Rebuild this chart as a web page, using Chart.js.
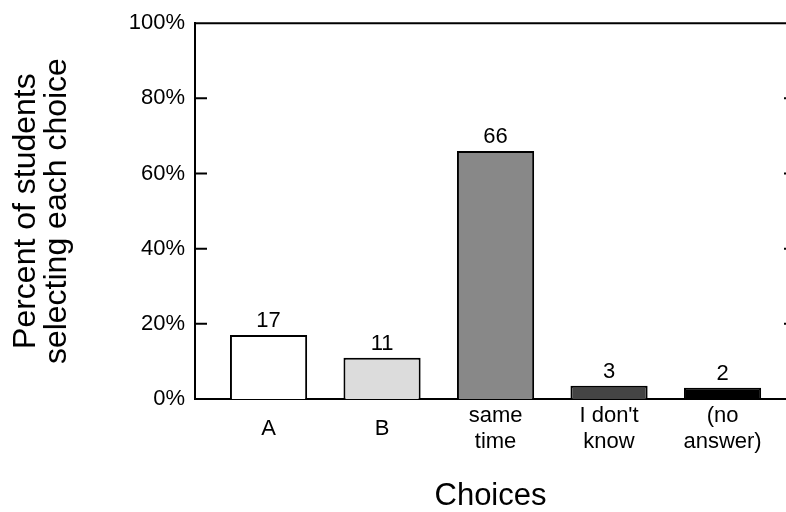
<!DOCTYPE html>
<html>
<head>
<meta charset="utf-8">
<script src="https://cdn.jsdelivr.net/npm/chart.js@4"></script>
<style>
  html, body { margin: 0; padding: 0; background: #fff; }
  #wrap { width: 786px; height: 512px; }
</style>
</head>
<body>
<div id="wrap"><canvas id="choiceChart" width="786" height="512"></canvas></div>
<script>
// data
const choices = [["A"], ["B"], ["same", "time"], ["I don't", "know"], ["(no", "answer)"]];
const percents = [17, 11, 66, 3.5, 3.0];     // bar heights as drawn
const valueLabels = ["17", "11", "66", "3", "2"]; // numbers printed above bars
const barColors = ["#ffffff", "#dcdcdc", "#888888", "#444444", "#000000"];
const yTicks = [0, 20, 40, 60, 80, 100];

const FONT = "'Liberation Sans', Arial, Helvetica, sans-serif";

// top border line, inward tick marks, value labels above bars
const framePlugin = {
    id: "frame",
    afterDraw(chart) {
        const ctx = chart.ctx;
        const area = chart.chartArea;
        const y = chart.scales.y;
        ctx.save();
        ctx.strokeStyle = "#000";
        ctx.lineWidth = 2;
        ctx.beginPath();
        ctx.moveTo(area.left - 1, area.top);
        ctx.lineTo(area.right, area.top);
        ctx.stroke();

        yTicks.slice(1, -1).forEach(v => {
            const py = y.getPixelForValue(v);
            ctx.beginPath();
            ctx.moveTo(area.left, py);
            ctx.lineTo(area.left + 12, py);
            ctx.moveTo(area.right - 2, py);
            ctx.lineTo(area.right, py);
            ctx.stroke();
        });

        ctx.fillStyle = "#000";
        ctx.font = "22px " + FONT;
        ctx.textAlign = "center";
        ctx.textBaseline = "alphabetic";
        chart.getDatasetMeta(0).data.forEach((bar, i) => {
            ctx.fillText(valueLabels[i], bar.x, bar.y - 8);
        });
        ctx.restore();
    }
};

new Chart(document.getElementById("choiceChart"), {
    type: "bar",
    data: {
        datasets: [{
            data: percents.map((v, i) => ({ x: i, y: v })),
            backgroundColor: barColors,
            borderColor: "#000",
            borderWidth: 2,
            barPercentage: 0.68,
            categoryPercentage: 1
        }]
    },
    options: {
        responsive: false,
        animation: false,
        layout: { padding: { top: 22, right: 0, bottom: 0, left: 0 } },
        plugins: { legend: { display: false }, tooltip: { enabled: false } },
        scales: {
            x: {
                type: "linear",
                offset: false,
                min: -0.648,
                max: 4.559,
                afterFit: s => { s.height = 113; },
                afterBuildTicks: s => { s.ticks = choices.map((c, i) => ({ value: i })); },
                grid: { display: false, drawTicks: false },
                border: { color: "#000", width: 2 },
                ticks: {
                    padding: 17,
                    crossAlign: "center",
                    color: "#000",
                    font: { family: FONT, size: 22, lineHeight: 1.18 },
                    callback: v => choices[v] || ""
                },
                title: {
                    display: true,
                    text: "Choices",
                    color: "#000",
                    padding: 0,
                    font: { family: FONT, size: 31, lineHeight: 1.0 }
                }
            },
            y: {
                min: 0,
                max: 100,
                afterFit: s => { s.width = 195; },
                afterBuildTicks: s => { s.ticks = yTicks.map(v => ({ value: v })); },
                grid: { display: false, drawTicks: false },
                border: { color: "#000", width: 2 },
                ticks: {
                    padding: 10,
                    color: "#000",
                    font: { family: FONT, size: 22 },
                    callback: v => v + "%"
                },
                title: {
                    display: true,
                    text: ["Percent of students", "selecting each choice"],
                    color: "#000",
                    padding: { top: 10.5, bottom: 0 },
                    font: { family: FONT, size: 32, lineHeight: 0.97 }
                }
            }
        }
    },
    plugins: [framePlugin]
});
</script>
</body>
</html>
